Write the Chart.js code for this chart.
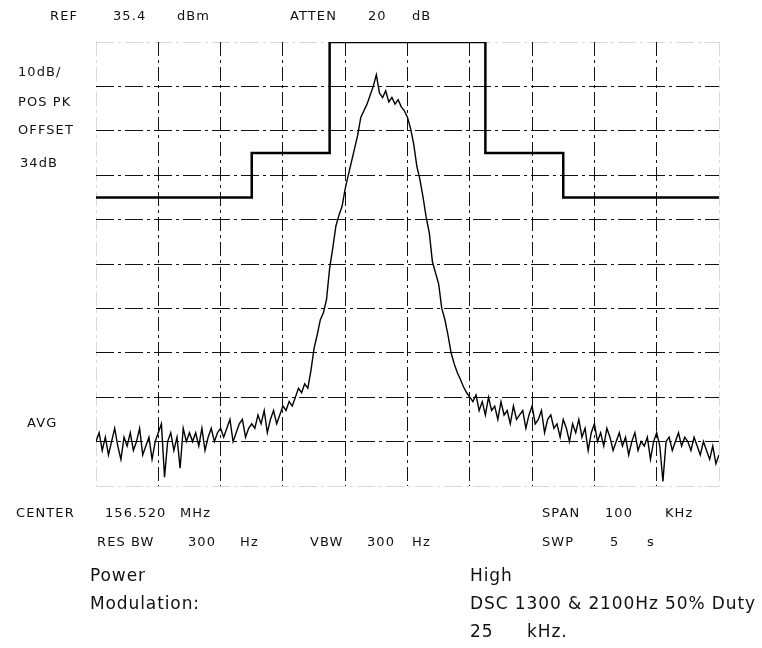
<!DOCTYPE html>
<html>
<head>
<meta charset="utf-8">
<script src="https://cdn.jsdelivr.net/npm/chart.js@4/dist/chart.umd.min.js"></script>
<style>
html, body { margin: 0; padding: 0; background: #fff; }
#wrap { position: relative; width: 762px; height: 648px; overflow: hidden; }
canvas { position: absolute; left: 0; top: 0; }
.t { position: absolute; font-family: "DejaVu Sans", sans-serif; font-size: 13px; letter-spacing: 1.1px; color: #111;
     white-space: nowrap; line-height: 16px; transform: translateY(-50%); }
.big { font-size: 17px; letter-spacing: 0.9px; line-height: 20px; }
</style>
</head>
<body>
<div id="wrap">
<canvas id="spec" width="762" height="648"></canvas>
<div class="t" style="left:50px;top:16px">REF</div>
<div class="t" style="left:113px;top:16px">35.4</div>
<div class="t" style="left:177px;top:16px">dBm</div>
<div class="t" style="left:290px;top:16px">ATTEN</div>
<div class="t" style="left:368px;top:16px">20</div>
<div class="t" style="left:412px;top:16px">dB</div>

<div class="t" style="left:18px;top:72px">10dB/</div>
<div class="t" style="left:18px;top:102px">POS PK</div>
<div class="t" style="left:18px;top:130px">OFFSET</div>
<div class="t" style="left:20px;top:163px">34dB</div>
<div class="t" style="left:27px;top:423px">AVG</div>

<div class="t" style="left:16px;top:513px">CENTER</div>
<div class="t" style="left:105px;top:513px">156.520</div>
<div class="t" style="left:180px;top:513px">MHz</div>
<div class="t" style="left:542px;top:513px">SPAN</div>
<div class="t" style="left:605px;top:513px">100</div>
<div class="t" style="left:665px;top:513px">KHz</div>

<div class="t" style="left:97px;top:542px">RES BW</div>
<div class="t" style="left:188px;top:542px">300</div>
<div class="t" style="left:240px;top:542px">Hz</div>
<div class="t" style="left:310px;top:542px">VBW</div>
<div class="t" style="left:367px;top:542px">300</div>
<div class="t" style="left:412px;top:542px">Hz</div>
<div class="t" style="left:542px;top:542px">SWP</div>
<div class="t" style="left:610px;top:542px">5</div>
<div class="t" style="left:647px;top:542px">s</div>

<div class="t big" style="left:90px;top:575px">Power</div>
<div class="t big" style="left:470px;top:575px">High</div>
<div class="t big" style="left:90px;top:603px">Modulation:</div>
<div class="t big" style="left:470px;top:603px">DSC 1300 &amp; 2100Hz 50% Duty</div>
<div class="t big" style="left:470px;top:631px">25</div>
<div class="t big" style="left:527px;top:631px">kHz.</div>
</div>

<script>
// sweep: offset from centre in kHz, level in dB below the reference line
const SWEEP_START = -50;
const SWEEP_STEP = 0.5;

const traceLevels = [
  // -50 .. -15 kHz
  -90,-88,-92,-89,-93,-90,-87,-91,-94,-89,-91,
  -88,-92,-90,-87,-93,-91,-89,-94,-90,-88,
  -86,-98,-90,-88,-92,-89,-96,-87,-90,-88,
  -90,-88,-91,-87,-92,-89,-87,-90,-88,-87,
  -89,-87,-85,-90,-88,-86,-85,-89,-87,-86,
  -87,-84,-86,-83,-88,-85,-83,-86,-84,-82,
  -83,-81,-82,-80,-78,-79,-77,-78,-74,-69,
  // -14.5 .. 12 kHz
  -66,-62.6,-61,-58,-51,-46.5,-41.5,-39,-37,-33,
  -30,-27,-24,-21,-17,-15.5,-14,-12,-10,-7.4,
  -11.5,-12.5,-11,-13.5,-12.5,-14,-13,-14.6,-15.5,-17,
  -19.5,-23,-28,-31,-35,-39.5,-43,-49.5,-52,-54.5,
  -60,-62.5,-66,-70,-72.5,-74.5,-76,-77.7,-79,-80,
  -81,-79.5,-83,-81,
  // 12.5 .. 50 kHz
  -84,-80,-83,-82,-85,-81,-84,-83,-86,-82,
  -85,-84,-83,-87,-84,-82,-86,-85,-83,-88,
  -85,-84,-87,-86,-89,-85,-87,-90,-86,-88,
  -85,-89,-87,-92,-88,-86,-90,-88,-91,-87,
  -89,-92,-90,-88,-91,-89,-93,-90,-88,-92,
  -90,-91,-89,-94,-90,-88,-91,-99,-90,-89,
  -92,-90,-88,-91,-89,-90,-92,-89,-91,-93,
  -90,-92,-94,-91,-95,-93
];

// emission mask corners
const maskFreqs  = [-50, -25, -25, -12.5, -12.5, 12.5, 12.5, 25, 25, 50];
const maskLevels = [-35, -35, -25, -25,   0,     0,    -25,  -25, -35, -35];

// graticule: 10 x 10 divisions
const freqTicks = [-50, -40, -30, -20, -10, 0, 10, 20, 30, 40, 50];
const levelTicks = [-100, -90, -80, -70, -60, -50, -40, -30, -20, -10, 0];

const tracePts = traceLevels.map((v, i) => ({ x: SWEEP_START + i * SWEEP_STEP, y: v }));
const maskPts = maskFreqs.map((f, i) => ({ x: f, y: maskLevels[i] }));

function gridColor(ctx, n) {
  return (ctx.index === 0 || ctx.index === n) ? 'rgba(0,0,0,0.15)' : '#111';
}

new Chart(document.getElementById('spec'), {
  type: 'line',
  data: {
    datasets: [
      { data: maskPts, borderColor: '#000', borderWidth: 2.5, pointRadius: 0, tension: 0 },
      { data: tracePts, borderColor: '#000', borderWidth: 1.4, pointRadius: 0, tension: 0 }
    ]
  },
  options: {
    responsive: false,
    animation: false,
    layout: { padding: { left: 96, right: 43, top: 42, bottom: 162 } },
    plugins: { legend: { display: false }, tooltip: { enabled: false } },
    scales: {
      x: {
        type: 'linear', min: -50, max: 50,
        afterBuildTicks: (s) => { s.ticks = freqTicks.map(v => ({ value: v })); },
        ticks: { display: false },
        border: { display: false, dash: [14, 4, 3, 4] },
        grid: { drawTicks: false, lineWidth: 1, color: (c) => gridColor(c, 10) }
      },
      y: {
        type: 'linear', min: -100, max: 0,
        afterBuildTicks: (s) => { s.ticks = levelTicks.map(v => ({ value: v })); },
        ticks: { display: false },
        border: { display: false, dash: [18, 4, 3, 4] },
        grid: { drawTicks: false, lineWidth: 1, color: (c) => gridColor(c, 10) }
      }
    }
  }
});
</script>
</body>
</html>
